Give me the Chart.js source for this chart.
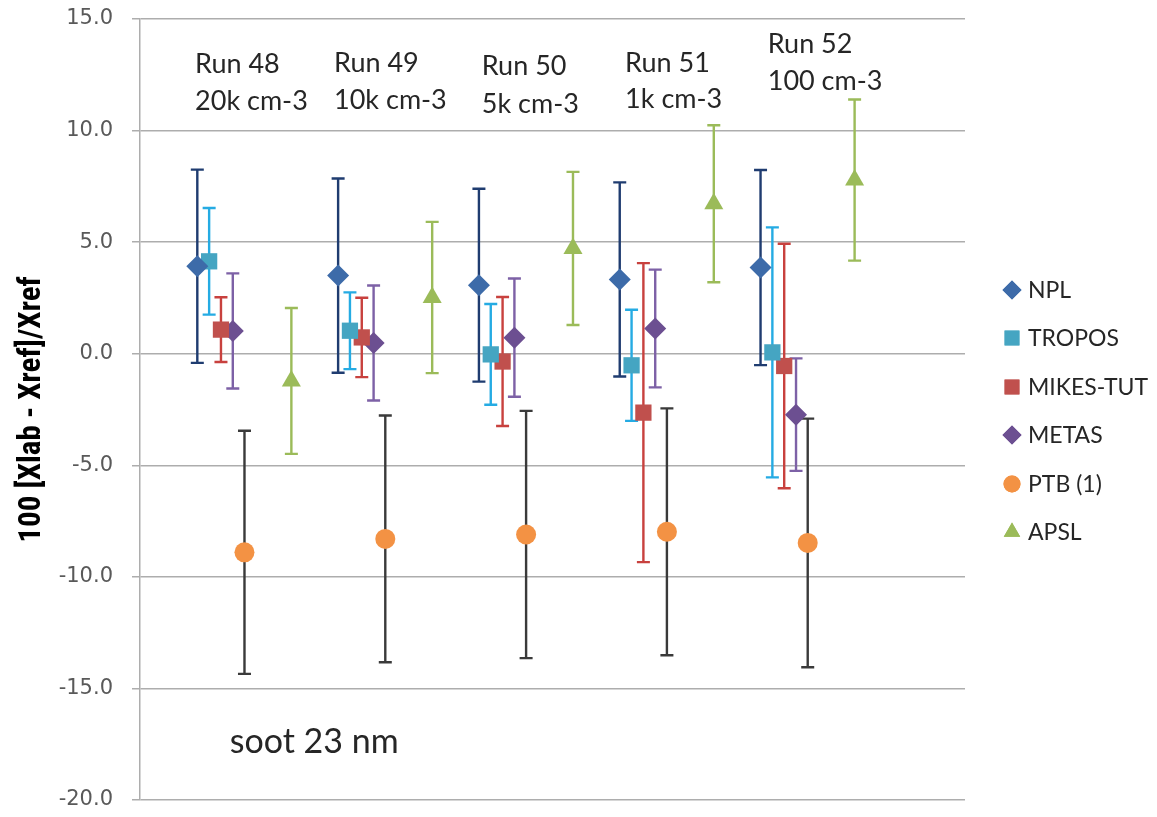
<!DOCTYPE html>
<html>
<head>
<meta charset="utf-8">
<script src="https://cdn.jsdelivr.net/npm/chart.js@4/dist/chart.umd.min.js"></script>
<style>
  html, body { margin: 0; padding: 0; background: #ffffff; }
  #wrap { width: 1157px; height: 817px; position: relative; }
</style>
</head>
<body>
<div id="wrap"><canvas id="c" width="1157" height="817"></canvas></div>
<script>
// ---- data ----
const runs = [1, 2, 3, 4, 5];
const runLabels = ['Run 48', 'Run 49', 'Run 50', 'Run 51', 'Run 52'];
const concLabels = ['20k cm-3', '10k cm-3', '5k cm-3', '1k cm-3', '100 cm-3'];
const seriesNames = ['NPL', 'TROPOS', 'MIKES-TUT', 'METAS', 'PTB (1)', 'APSL'];

const nplVal    = [3.92, 3.50, 3.07, 3.33, 3.86];
const nplErr    = [4.33, 4.35, 4.32, 4.35, 4.37];
const troposVal = [4.14, 1.03, -0.03, -0.52, 0.06];
const troposErr = [2.39, 1.72, 2.26, 2.49, 5.60];
const mikesVal  = [1.08, 0.73, -0.35, -2.64, -0.55];
const mikesErr  = [1.45, 1.78, 2.89, 6.70, 5.48];
const metasVal  = [1.02, 0.48, 0.72, 1.13, -2.73];
const metasErr  = [2.58, 2.58, 2.65, 2.64, 2.52];
const ptbVal    = [-8.90, -8.30, -8.10, -7.98, -8.48];
const ptbErr    = [5.45, 5.53, 5.54, 5.53, 5.57];
const apslVal   = [-1.22, 2.52, 4.72, 6.72, 7.78];
const apslErr   = [3.27, 3.39, 3.43, 3.52, 3.61];

const yTicks = [15, 10, 5, 0, -5, -10, -15, -20];
const yTitle = '100 [Xlab - Xref]/Xref';
const noteText = 'soot 23 nm';

// ---- build ----
const seriesVals = [nplVal, troposVal, mikesVal, metasVal, ptbVal, apslVal];
const seriesErrs = [nplErr, troposErr, mikesErr, metasErr, ptbErr, apslErr];
const xOffsets = [0, 0.084, 0.168, 0.252, 0.335, 0.668];
const styles = [
  { fill: '#3D6BA9', bar: '#1F3C70', shape: 'rectRot', r: 11 },
  { fill: '#45A5C2', bar: '#25ABE3', shape: 'rect', r: 11.5 },
  { fill: '#C0504D', bar: '#C8413E', shape: 'rect', r: 11.5 },
  { fill: '#6C4F91', bar: '#7D61A6', shape: 'rectRot', r: 11 },
  { fill: '#F39244', bar: '#3A3A3A', shape: 'circle', r: 10 },
  { fill: '#9BBB59', bar: '#9BBB59', shape: 'triangle', r: 11 }
];

const datasets = seriesNames.map((name, s) => ({
  label: name,
  data: runs.map((r, i) => ({ x: r + xOffsets[s], y: seriesVals[s][i], err: seriesErrs[s][i] })),
  pointStyle: styles[s].shape,
  pointRadius: styles[s].r,
  pointHoverRadius: styles[s].r,
  backgroundColor: styles[s].fill,
  borderColor: styles[s].fill,
  borderWidth: 0,
  barColor: styles[s].bar,
  showLine: false
}));

const errorBars = {
  id: 'errorBars',
  beforeDatasetsDraw(chart) {
    const ctx = chart.ctx, xs = chart.scales.x, ys = chart.scales.y;
    ctx.save();
    chart.data.datasets.forEach(ds => {
      ctx.strokeStyle = ds.barColor;
      ctx.lineWidth = 2.4;
      ds.data.forEach(p => {
        const x = xs.getPixelForValue(p.x);
        const yt = ys.getPixelForValue(p.y + p.err);
        const yb = ys.getPixelForValue(p.y - p.err);
        ctx.beginPath();
        ctx.moveTo(x, yt); ctx.lineTo(x, yb);
        ctx.moveTo(x - 6.5, yt); ctx.lineTo(x + 6.5, yt);
        ctx.moveTo(x - 6.5, yb); ctx.lineTo(x + 6.5, yb);
        ctx.stroke();
      });
    });
    ctx.restore();
  }
};

const notes = {
  id: 'notes',
  afterDatasetsDraw(chart) {
    const ctx = chart.ctx, xs = chart.scales.x, ys = chart.scales.y;
    ctx.save();
    ctx.fillStyle = '#262626';
    ctx.textAlign = 'left';
    ctx.textBaseline = 'alphabetic';
    ctx.font = '27px Lato, "Open Sans", sans-serif';
    const pos = [
      [0.984, 12.59, 10.92],
      [1.971, 12.64, 10.97],
      [3.020, 12.49, 10.77],
      [4.038, 12.64, 11.00],
      [5.051, 13.46, 11.82]
    ];
    runLabels.forEach((t, i) => {
      const x = xs.getPixelForValue(pos[i][0]);
      ctx.fillText(t, x, ys.getPixelForValue(pos[i][1]));
      ctx.fillText(concLabels[i], x, ys.getPixelForValue(pos[i][2]));
    });
    ctx.font = '34px Lato, "Open Sans", sans-serif';
    ctx.fillText(noteText, xs.getPixelForValue(1.230), ys.getPixelForValue(-17.88));

    // legend
    const lx = 1012, tx = 1028;
    const ly = [290, 338, 387, 435, 484, 532];
    ctx.font = '23px Lato, "Open Sans", sans-serif';
    ctx.textBaseline = 'middle';
    chart.data.datasets.forEach((ds, s) => {
      ctx.fillStyle = ds.backgroundColor;
      Chart.helpers.drawPoint(ctx, { pointStyle: ds.pointStyle, radius: s === 4 ? 8.5 : (ds.pointStyle === 'rect' ? 10.5 : 9.5), borderWidth: 0 }, lx, ly[s]);
      ctx.fill();
      ctx.fillStyle = '#262626';
      ctx.fillText(ds.label, tx, ly[s] + 1);
    });
    ctx.restore();
  }
};

new Chart(document.getElementById('c'), {
  type: 'scatter',
  data: { datasets },
  options: {
    responsive: false,
    animation: false,
    events: [],
    layout: { padding: { top: 19, bottom: 17, left: 0, right: 192 } },
    plugins: { legend: { display: false }, tooltip: { enabled: false } },
    scales: {
      x: { type: 'linear', min: 0.593, max: 6.452, display: false },
      y: {
        type: 'linear', min: -20, max: 15,
        afterFit(scale) { scale.width = 140; scale.paddingTop = 0; scale.paddingBottom = 0; },
        afterBuildTicks(scale) { scale.ticks = yTicks.map(v => ({ value: v })); },
        grid: { color: '#ADADAD', lineWidth: 1.5, tickLength: 8, tickColor: '#ADADAD' },
        border: { display: true, color: '#ADADAD', width: 1.5 },
        ticks: {
          color: '#595959', padding: 19,
          font: { family: '"DejaVu Sans", sans-serif', size: 21 },
          callback: v => v.toFixed(1)
        },
        title: {
          display: true, text: yTitle, color: '#000000',
          font: { family: '"Liberation Sans Narrow", "Roboto Condensed", "Liberation Sans", sans-serif', size: 31, weight: 'bold' },
          padding: { top: 14, bottom: 0 }
        }
      }
    }
  },
  plugins: [errorBars, notes]
});
</script>
</body>
</html>
